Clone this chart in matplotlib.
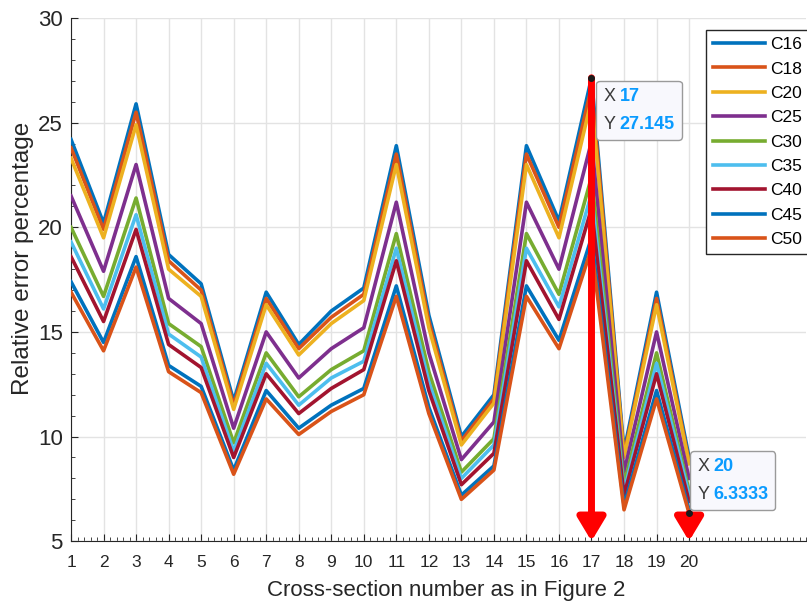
import matplotlib
matplotlib.use('Agg')
import matplotlib.pyplot as plt
from matplotlib.ticker import MultipleLocator
from matplotlib.offsetbox import TextArea, HPacker, VPacker, AnnotationBbox

# cross-section numbers
sections = list(range(1, 21))

# relative error (%) for each case
c16 = [24.2, 20.2, 25.9, 18.7, 17.3, 11.7, 16.9, 14.4, 16.0, 17.1, 23.9, 15.8, 10.0, 12.0, 23.9, 20.3, 27.145, 9.3, 16.9, 9.0]
c18 = [23.8, 19.9, 25.5, 18.4, 17.0, 11.5, 16.6, 14.2, 15.7, 16.8, 23.5, 15.5, 9.8, 11.8, 23.5, 20.0, 26.7, 9.1, 16.6, 8.8]
c20 = [23.3, 19.5, 24.9, 18.0, 16.7, 11.3, 16.3, 13.9, 15.4, 16.5, 23.0, 15.2, 9.6, 11.6, 23.0, 19.5, 26.1, 9.0, 16.3, 8.7]
c25 = [21.5, 17.9, 23.0, 16.6, 15.4, 10.4, 15.0, 12.8, 14.2, 15.2, 21.2, 14.0, 8.9, 10.7, 21.2, 18.0, 24.1, 8.3, 15.0, 8.0]
c30 = [20.0, 16.7, 21.4, 15.4, 14.3, 9.7, 14.0, 11.9, 13.2, 14.1, 19.7, 13.1, 8.3, 9.9, 19.7, 16.8, 22.4, 7.7, 14.0, 7.4]
c35 = [19.3, 16.1, 20.6, 14.9, 13.8, 9.3, 13.5, 11.5, 12.8, 13.6, 19.0, 12.6, 8.0, 9.6, 19.0, 16.2, 21.6, 7.4, 13.5, 7.2]
c40 = [18.6, 15.5, 19.9, 14.4, 13.3, 9.0, 13.0, 11.1, 12.3, 13.2, 18.4, 12.2, 7.7, 9.2, 18.4, 15.6, 20.9, 7.2, 13.0, 6.9]
c45 = [17.4, 14.5, 18.6, 13.4, 12.4, 8.4, 12.2, 10.4, 11.5, 12.3, 17.2, 11.4, 7.2, 8.6, 17.2, 14.6, 19.5, 6.7, 12.2, 6.5]
c50 = [16.9, 14.1, 18.1, 13.1, 12.1, 8.2, 11.8, 10.1, 11.2, 12.0, 16.7, 11.1, 7.0, 8.4, 16.7, 14.2, 19.0, 6.5, 11.8, 6.3333]

names = ['C16', 'C18', 'C20', 'C25', 'C30', 'C35', 'C40', 'C45', 'C50']
series = [c16, c18, c20, c25, c30, c35, c40, c45, c50]
colors = ['#0072BD', '#D95319', '#EDB120', '#7E2F8E', '#77AC30',
          '#4DBEEE', '#A2142F', '#0072BD', '#D95319']

# data tips (x, y)
tips = [(17, 27.145), (20, 6.3333)]

plt.rcParams['font.family'] = ['Liberation Sans', 'DejaVu Sans']

fig = plt.figure(figsize=(8.07, 6.02), dpi=100)
ax = fig.add_axes([0.088, 0.101, 0.911, 0.869])

for name, vals, col in zip(names, series, colors):
    ax.plot(sections, vals, color=col, lw=2.6, label=name, zorder=3)

ax.set_xlim(1, 23.6)
ax.set_ylim(5, 30)
ax.set_xticks(sections)
ax.set_yticks([5, 10, 15, 20, 25, 30])
ax.xaxis.set_minor_locator(MultipleLocator(0.2))
ax.yaxis.set_minor_locator(MultipleLocator(1))
ax.tick_params(which='both', direction='in', colors='#262626')
ax.tick_params(which='major', length=5)
ax.tick_params(which='minor', length=3)
ax.tick_params(axis='x', labelsize=12.5, pad=10)
ax.tick_params(axis='y', labelsize=16, pad=6)
ax.grid(True, which='major', color='#e3e3e3', lw=1, zorder=0)
ax.set_axisbelow(True)
for s in ['top', 'right']:
    ax.spines[s].set_visible(False)
for s in ['left', 'bottom']:
    ax.spines[s].set_color('#262626')

ax.set_xlabel('Cross-section number as in Figure 2', fontsize=16, color='#262626')
ax.xaxis.set_label_coords(0.51, -0.075)
ax.set_ylabel('Relative error percentage', fontsize=17.5, color='#262626')
ax.yaxis.set_label_coords(-0.051, 0.54)

leg = ax.legend(loc='upper left', bbox_to_anchor=(0.864, 0.977), borderaxespad=0,
                fontsize=12.5, handlelength=3.0, handletextpad=0.3,
                labelspacing=0.53, fancybox=False, framealpha=1)
leg.get_frame().set_edgecolor('#262626')
leg.get_frame().set_linewidth(1)
leg.set_zorder(10)

# red arrows and data tips
for i, (tx, ty) in enumerate(tips):
    ax.annotate('', xy=(tx, 5), xytext=(tx, ty),
                arrowprops=dict(arrowstyle='-|>,head_length=0.7,head_width=0.42',
                                color='red', lw=5, mutation_scale=20,
                                shrinkA=0, shrinkB=0),
                annotation_clip=False, zorder=6)
    ax.plot([tx], [ty], 'o', color='#1a1a1a', ms=4, zorder=7)
    fs = 13
    row1 = HPacker(children=[TextArea('X', textprops=dict(color='#3a3a3a', fontsize=fs)),
                             TextArea('%g' % tx, textprops=dict(color='#0a9bff', fontsize=fs, fontweight='bold'))],
                   sep=3, pad=0)
    row2 = HPacker(children=[TextArea('Y', textprops=dict(color='#3a3a3a', fontsize=fs)),
                             TextArea('%g' % ty, textprops=dict(color='#0a9bff', fontsize=fs, fontweight='bold'))],
                   sep=3, pad=0)
    box = VPacker(children=[row1, row2], sep=8, pad=0, align='left')
    if i == 0:
        off, align = (8.6, -7.2), (0, 1)
    else:
        off, align = (5.8, 7.2), (0, 0)
    ab = AnnotationBbox(box, (tx, ty), xybox=off, boxcoords='offset points',
                        box_alignment=align, frameon=True,
                        bboxprops=dict(boxstyle='round,pad=0.5,rounding_size=0.25',
                                       fc='#f8f8fd', ec='#9a9a9a', lw=1))
    ab.set_zorder(8)
    ax.add_artist(ab)

fig.savefig('out.png', dpi=100)
